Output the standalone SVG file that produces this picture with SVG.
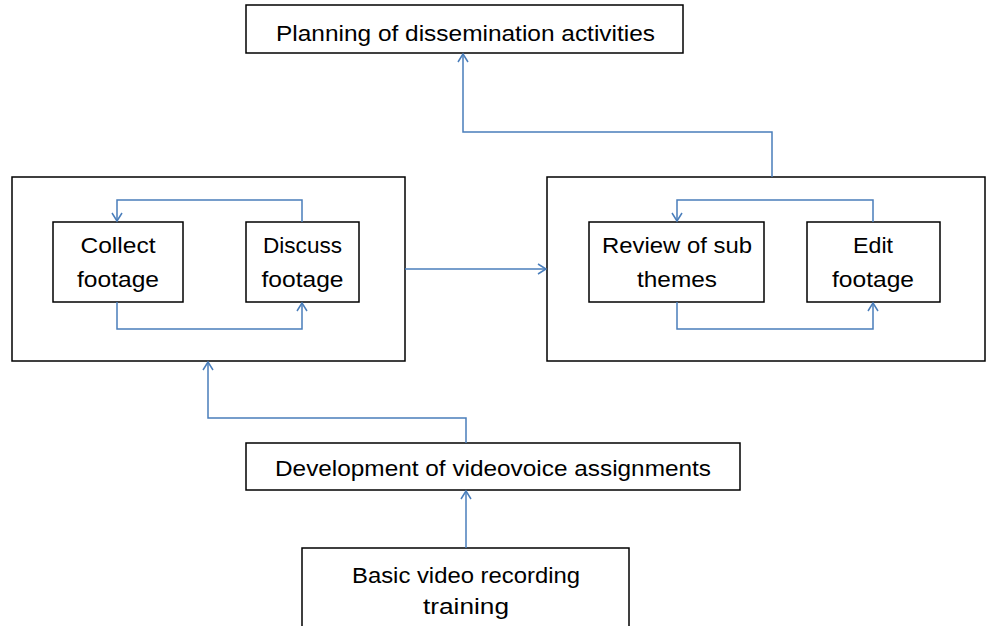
<svg xmlns="http://www.w3.org/2000/svg" width="987" height="626" viewBox="0 0 987 626">
<style>
.box{fill:#fff;stroke:#000;stroke-width:1.5}
.lbl{font-family:"Liberation Sans",Arial,sans-serif;font-size:22px;fill:#000;text-anchor:middle}
.con{fill:none;stroke:#4a7ebb;stroke-width:1.5}
</style>
<defs>
<marker id="arr" markerUnits="userSpaceOnUse" markerWidth="14" markerHeight="14" refX="10" refY="6" orient="auto">
<path d="M2,1 L10,6 L2,11" fill="none" stroke="#4a7ebb" stroke-width="1.5"/>
</marker>
</defs>
<rect width="987" height="626" fill="#fff"/>
<g id="planning">
<rect class="box" x="246" y="5" width="437" height="48"/>
<text class="lbl" x="465.5" y="41" textLength="379" lengthAdjust="spacingAndGlyphs">Planning of dissemination activities</text>
</g>
<g id="group-left">
<rect class="box" x="12" y="177" width="393" height="184"/>
</g>
<g id="group-right">
<rect class="box" x="547" y="177" width="438" height="184"/>
</g>
<g id="collect">
<rect class="box" x="53" y="222" width="130" height="80"/>
<text class="lbl" x="118" y="253" textLength="75" lengthAdjust="spacingAndGlyphs">Collect</text>
<text class="lbl" x="118" y="287" textLength="82" lengthAdjust="spacingAndGlyphs">footage</text>
</g>
<g id="discuss">
<rect class="box" x="246" y="222" width="113" height="80"/>
<text class="lbl" x="302.5" y="253" textLength="79" lengthAdjust="spacingAndGlyphs">Discuss</text>
<text class="lbl" x="302.5" y="287" textLength="82" lengthAdjust="spacingAndGlyphs">footage</text>
</g>
<g id="review">
<rect class="box" x="589" y="222" width="175" height="80"/>
<text class="lbl" x="677" y="253" textLength="150" lengthAdjust="spacingAndGlyphs">Review of sub</text>
<text class="lbl" x="677" y="287" textLength="80" lengthAdjust="spacingAndGlyphs">themes</text>
</g>
<g id="edit">
<rect class="box" x="807" y="222" width="133" height="80"/>
<text class="lbl" x="873" y="253" textLength="40" lengthAdjust="spacingAndGlyphs">Edit</text>
<text class="lbl" x="873" y="287" textLength="82" lengthAdjust="spacingAndGlyphs">footage</text>
</g>
<g id="development">
<rect class="box" x="246" y="443" width="494" height="47"/>
<text class="lbl" x="493" y="476" textLength="436" lengthAdjust="spacingAndGlyphs">Development of videovoice assignments</text>
</g>
<g id="basic">
<rect class="box" x="302" y="548" width="327" height="100"/>
<text class="lbl" x="466" y="583" textLength="228" lengthAdjust="spacingAndGlyphs">Basic video recording</text>
<text class="lbl" x="466" y="614" textLength="86" lengthAdjust="spacingAndGlyphs">training</text>
</g>
<g id="connectors">
<path class="con" d="M772,177 V132 H463 V54" marker-end="url(#arr)"/>
<path class="con" d="M405,269 H546" marker-end="url(#arr)"/>
<path class="con" d="M466,443 V418 H208 V362" marker-end="url(#arr)"/>
<path class="con" d="M466,548 V491" marker-end="url(#arr)"/>
<path class="con" d="M302,222 V200 H117 V221" marker-end="url(#arr)"/>
<path class="con" d="M117,302 V329 H302 V303" marker-end="url(#arr)"/>
<path class="con" d="M873,222 V200 H677 V221" marker-end="url(#arr)"/>
<path class="con" d="M677,302 V329 H873 V303" marker-end="url(#arr)"/>
</g>
</svg>
